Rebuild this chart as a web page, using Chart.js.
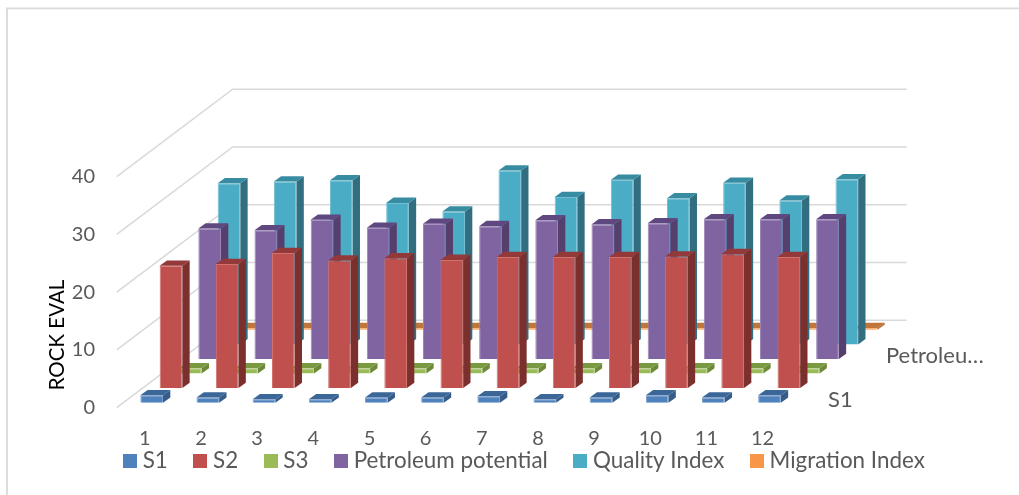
<!DOCTYPE html>
<html>
<head>
<meta charset="utf-8">
<style>
  html, body { margin: 0; padding: 0; background: #fff; }
  canvas { display: block; }
</style>
<script src="https://cdn.jsdelivr.net/npm/chart.js@4/dist/chart.umd.js"></script>
</head>
<body>
<canvas id="rockEval" width="1019" height="495"></canvas>
<script>
// Rock-Eval parameters per sample
const samples = ['1', '2', '3', '4', '5', '6', '7', '8', '9', '10', '11', '12'];
const s1 = [1.3, 0.9, 0.6, 0.6, 0.9, 0.9, 1.1, 0.6, 0.9, 1.3, 0.9, 1.3];
const s2 = [21.2, 21.5, 23.4, 22.1, 22.5, 22.2, 22.7, 22.7, 22.7, 22.8, 23.2, 22.7];
const s3 = [0.9, 0.9, 0.9, 0.9, 0.9, 0.9, 0.9, 0.9, 0.9, 0.9, 0.9, 0.9];
const petroleumPotential = [22.6, 22.3, 24.1, 22.7, 23.4, 23.0, 24.0, 23.3, 23.5, 24.2, 24.2, 24.2];
const qualityIndex = [27.9, 28.2, 28.4, 24.5, 23.0, 30.1, 25.5, 28.5, 25.3, 28.0, 24.9, 28.6];
const migrationIndex = [0.3, 0.3, 0.3, 0.3, 0.3, 0.3, 0.3, 0.3, 0.3, 0.3, 0.3, 0.3];
const depthLabels = [[0, 'S1'], [3, 'Petroleu…']];

// Face colours of each series: front, top, side, edge
const palette = {
  s1: ['#4F81BD', '#3B6698', '#355C8A', '#7BA0CE'],
  s2: ['#C0504D', '#93393A', '#7C302E', '#D0736F'],
  s3: ['#9BBB59', '#7A9A42', '#6C8A38', '#B9CF8B'],
  pp: ['#8064A2', '#5F4880', '#563F6C', '#9A85B6'],
  qi: ['#4BACC6', '#378CA2', '#316F80', '#72BFD4'],
  mi: ['#F79646', '#C0763A', '#B06A30', '#F9B67E']
};

// Oblique projection: one series step into the depth of the box
const STEP_X = 19.33, STEP_Y = 14.58;
const FRONT_X = 6.9, FRONT_Y = 5;
const BAR_DX = 7.3, BAR_DY = 5.3;
const TEXT = '#595959';
const FONT = 'Lato, Carlito, sans-serif';
const AXIS_SIZE = 20;
const LABEL_SIZE = 22.4;

function series(label, data, faces) {
  return {
    label, data, faces,
    backgroundColor: faces[0],
    borderColor: faces[3],
    borderWidth: 1,
    grouped: false,
    barPercentage: 1,
    categoryPercentage: 0.404,
    clip: false
  };
}

function swatch(color) {
  const c = document.createElement('canvas');
  c.width = 14; c.height = 14;
  const g = c.getContext('2d');
  g.fillStyle = color;
  g.fillRect(0, 0, 14, 14);
  return c;
}

const obliqueBox = {
  id: 'obliqueBox',
  afterLayout(chart) {
    const legend = chart.legend;
    const pad = legend.options.labels.padding;
    legend.left = 128.5 - pad;
    legend.right = 1019;
    legend.top = 460.5 - pad - LABEL_SIZE / 2;
    legend.bottom = 495;
  },
  beforeDraw(chart) {
    const { ctx } = chart;
    ctx.save();
    ctx.strokeStyle = '#DADADA';
    ctx.lineWidth = 1.8;
    ctx.beginPath();
    ctx.moveTo(7, 495);
    ctx.lineTo(7, 8.3);
    ctx.lineTo(1019, 8.3);
    ctx.stroke();
    ctx.restore();
  },
  beforeDatasetsDraw(chart) {
    const { ctx, chartArea, scales } = chart;
    const depthX = STEP_X * 6, depthY = STEP_Y * 6;
    ctx.save();
    ctx.strokeStyle = '#D9D9D9';
    ctx.lineWidth = 1.6;
    scales.y.ticks.forEach((t, i) => {
      const y = scales.y.getPixelForTick(i);
      ctx.beginPath();
      ctx.moveTo(chartArea.left, y);
      ctx.lineTo(chartArea.left + depthX, y - depthY);
      ctx.lineTo(chartArea.right + depthX, y - depthY);
      ctx.stroke();
    });
    ctx.restore();
  },
  beforeDatasetDraw(chart, args) {
    const depth = args.index;
    chart.ctx.save();
    chart.ctx.translate(FRONT_X + STEP_X * depth, -(FRONT_Y + STEP_Y * depth));
  },
  afterDatasetDraw(chart, args) {
    const { ctx } = chart;
    const faces = chart.data.datasets[args.index].faces;
    args.meta.data.forEach(bar => {
      const { x, y, base, width } = bar.getProps(['x', 'y', 'base', 'width']);
      const l = x - width / 2, r = x + width / 2;
      ctx.fillStyle = faces[2];
      ctx.beginPath();
      ctx.moveTo(r, y);
      ctx.lineTo(r + BAR_DX, y - BAR_DY);
      ctx.lineTo(r + BAR_DX, base - BAR_DY);
      ctx.lineTo(r, base);
      ctx.closePath();
      ctx.fill();
      ctx.fillStyle = faces[1];
      ctx.beginPath();
      ctx.moveTo(l, y);
      ctx.lineTo(l + BAR_DX, y - BAR_DY);
      ctx.lineTo(r + BAR_DX, y - BAR_DY);
      ctx.lineTo(r, y);
      ctx.closePath();
      ctx.fill();
    });
    ctx.restore();
  },
  afterDraw(chart) {
    const { ctx, chartArea } = chart;
    ctx.save();
    ctx.font = '22px ' + FONT;
    ctx.textBaseline = 'middle';
    ctx.fillStyle = TEXT;
    depthLabels.forEach(([depth, text]) => {
      ctx.fillText(text, chartArea.right + 37.3 + STEP_X * depth, 400 - STEP_Y * depth);
    });
    ctx.fillStyle = '#000';
    ctx.translate(57, 335);
    ctx.rotate(-Math.PI / 2);
    ctx.textAlign = 'center';
    ctx.font = '20.5px ' + FONT;
    ctx.fillText('ROCK EVAL', 0, 0);
    ctx.restore();
  }
};

new Chart(document.getElementById('rockEval'), {
  type: 'bar',
  data: {
    labels: samples,
    datasets: [
      series('S1', s1, palette.s1),
      series('S2', s2, palette.s2),
      series('S3', s3, palette.s3),
      series('Petroleum potential', petroleumPotential, palette.pp),
      series('Quality Index', qualityIndex, palette.qi),
      series('Migration Index', migrationIndex, palette.mi)
    ]
  },
  plugins: [obliqueBox],
  options: {
    responsive: false,
    animation: false,
    layout: { padding: { top: 176.7, left: 0, right: 0, bottom: 7.3 } },
    plugins: {
      tooltip: { enabled: false },
      legend: {
        position: 'bottom',
        align: 'start',
        maxHeight: 30,
        labels: {
          color: TEXT,
          font: { family: FONT, size: LABEL_SIZE },
          padding: 31,
          usePointStyle: true,
          pointStyleWidth: 3,
          boxHeight: 14,
          generateLabels(chart) {
            return Chart.defaults.plugins.legend.labels.generateLabels(chart)
              .map(item => ({ ...item, pointStyle: swatch(item.fillStyle) }));
          }
        }
      }
    },
    scales: {
      x: {
        grid: { display: false },
        border: { display: false },
        afterFit(scale) { scale.height = 50; },
        ticks: {
          color: TEXT,
          font: { family: FONT, size: AXIS_SIZE },
          padding: 11,
          maxRotation: 0,
          autoSkip: false
        }
      },
      y: {
        min: 0,
        max: 40,
        position: 'left',
        grid: { display: false, drawTicks: false },
        border: { display: false },
        afterFit(scale) { scale.width = 116.7; },
        ticks: {
          stepSize: 10,
          color: TEXT,
          font: { family: FONT, size: AXIS_SIZE },
          padding: 21.7
        }
      },
      yDepth: {
        axis: 'y',
        position: 'right',
        grid: { display: false, drawTicks: false },
        border: { display: false },
        ticks: { display: false },
        afterFit(scale) { scale.width = 228.3; }
      }
    }
  }
});
</script>
</body>
</html>
